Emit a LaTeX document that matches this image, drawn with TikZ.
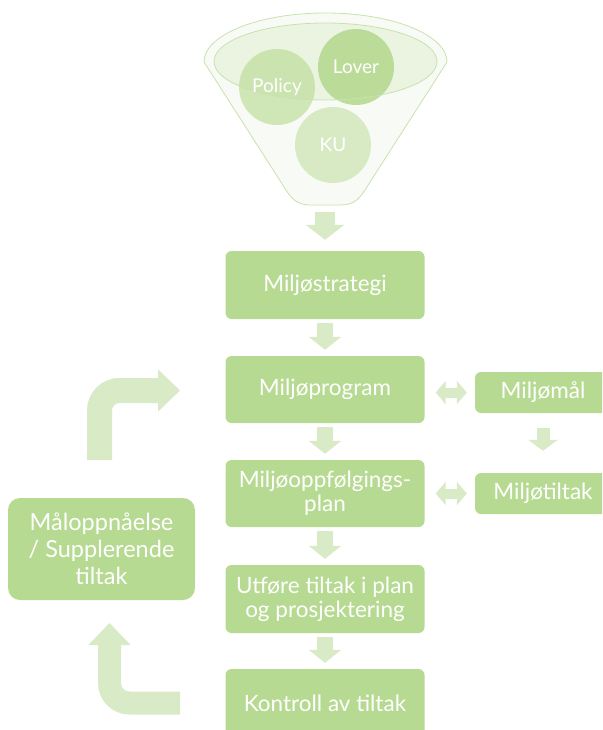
\documentclass[tikz,border=0pt]{standalone}
\usepackage{fontspec}
\setmainfont{Lato}
\usetikzlibrary{arrows.meta}
\definecolor{boxg}{HTML}{B7DA92}
\definecolor{arrg}{HTML}{D8EAC6}
\definecolor{funline}{HTML}{C8E2AE}
\definecolor{funfill}{HTML}{F8FBF5}
\begin{document}
\begin{tikzpicture}[x=1pt,y=-1pt,
  box/.style={fill=boxg, rounded corners=6pt, text=white, align=center,
    font=\fontsize{22.5}{24}\selectfont, inner sep=0pt},
  circ/.style={circle, fill=boxg, minimum size=76pt, inner sep=0pt},
  ctext/.style={text=white, font=\fontsize{19}{20}\selectfont, inner sep=0pt},
  blk/.style={draw=arrg, line width=16pt, -{Triangle[width=32pt,length=13pt]}},
  blksmall/.style={draw=arrg, line width=13pt, -{Triangle[width=29pt,length=11pt]}},
  dbl/.style={draw=arrg, line width=10pt, {Triangle[width=23pt,length=10pt]}-{Triangle[width=23pt,length=10pt]}},
  bent/.style={draw=arrg, rounded corners=20pt, -{Triangle[width=41pt,length=22pt]}}
]
\useasboundingbox (0,0) rectangle (602,730);
\clip (0,0) rectangle (602,730);

% funnel
\filldraw[fill=funfill, draw=funline, line width=0.8pt]
  (204,62) arc[start angle=180, end angle=0, x radius=121.5pt, y radius=49pt]
  -- (365,190) .. controls (358,201) and (352,205) .. (340,205)
  -- (311,205) .. controls (299,205) and (293,201) .. (286,190) -- cycle;
\node[circ, fill opacity=0.62] (pol) at (277,87) {};
\node[circ, fill opacity=0.9] (lov) at (356,67) {};
\node[circ, fill opacity=0.5] (ku) at (333,145) {};
\filldraw[fill=boxg, fill opacity=0.2, draw=funline, line width=0.8pt]
  (325.5,61.5) ellipse [x radius=111.5pt, y radius=38.5pt];
\node[ctext] at (pol) {Policy};
\node[ctext] at (lov) {Lover};
\node[ctext] at (ku) {KU};
\coordinate (fb) at (325,205);

% main column
\node[box, minimum width=199pt, minimum height=68pt] (ms) at (325,285) {Miljøstrategi};
\node[box, minimum width=199pt, minimum height=67pt] (mp) at (325,389.5) {Miljøprogram};
\node[box, minimum width=199pt, minimum height=67pt] (mo) at (325,493.5) {Miljøoppfølgings-\\plan};
\node[box, minimum width=199pt, minimum height=68pt] (ut) at (325,599) {Utføre tiltak i plan\\og prosjektering};
\node[box, minimum width=199pt, minimum height=68pt] (ko) at (325,703) {Kontroll av tiltak};

% right column
\node[box, minimum width=136pt, minimum height=41pt] (mm) at (543,392.5) {Miljømål};
\node[box, minimum width=136pt, minimum height=41pt] (mt) at (543,493.5) {Miljøtiltak};

% left box
\node[box, minimum width=187pt, minimum height=102pt, rounded corners=12pt,
  font=\fontsize{23.5}{27}\selectfont] (ml) at (101.5,549) {Måloppnåelse\\/ Supplerende\\tiltak};

% connectors
\draw[line width=20pt, draw=arrg, -{Triangle[width=38pt,length=15pt]}] ([yshift=-7pt]fb) -- ([yshift=11pt]ms.north);
\draw[blk] ([yshift=-4pt]ms.south) -- ([yshift=6pt]mp.north);
\draw[blk] ([yshift=-4pt]mp.south) -- ([yshift=6pt]mo.north);
\draw[blk] ([yshift=-4pt]mo.south) -- ([yshift=6pt]ut.north);
\draw[blk] ([yshift=-4pt]ut.south) -- ([yshift=6pt]ko.north);
\draw[blksmall] ([yshift=-15pt]mm.south) -- ([yshift=22pt]mt.north);

\path (mp.east |- mm.west) coordinate (d1a);
\path (mo.east |- mt.west) coordinate (d2a);
\draw[dbl] ([xshift=11pt]d1a) -- ([xshift=-8pt]mm.west);
\draw[dbl] ([xshift=11pt]d2a) -- ([xshift=-8pt]mt.west);

\coordinate (ua) at (99.5,460);
\coordinate (ub) at (180,390.5);
\draw[bent, line width=25pt] (ua) |- (ub);
\coordinate (la) at (180,703);
\coordinate (lb) at (109.5,623);
\draw[bent, line width=23pt] (la) -| (lb);
\end{tikzpicture}
\end{document}
